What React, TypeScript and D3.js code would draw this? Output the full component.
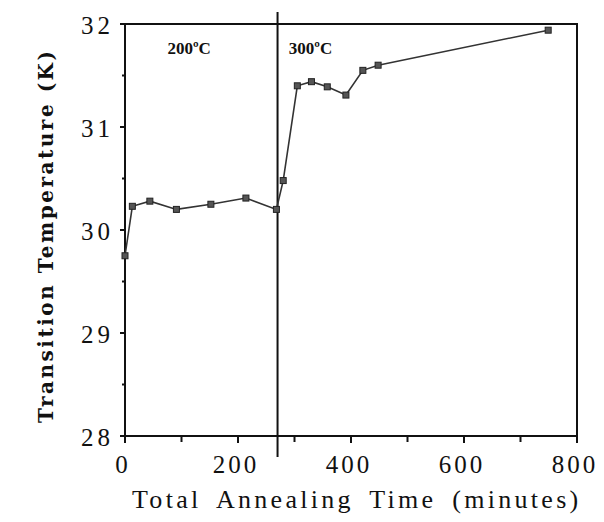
import React, { useEffect, useRef } from 'react';
import * as d3 from 'd3';

// annealing time (minutes) vs transition temperature (K)
const times = [0, 13, 44, 91, 152, 214, 268, 280, 305, 330, 358, 391, 421, 448, 749];
const temps = [29.75, 30.23, 30.28, 30.2, 30.25, 30.31, 30.2, 30.48, 31.4, 31.44, 31.39, 31.31, 31.55, 31.6, 31.94];
const xTicks = [0, 200, 400, 600, 800];
const xMinor = [100, 300, 500, 700];
const yTicks = [28, 29, 30, 31, 32];
const yMinor = [28.5, 29.5, 30.5, 31.5];
const switchTime = 270;
const regionLabels = [
  { text: '200ºC', t: 75 },
  { text: '300ºC', t: 290 },
];

const W = 604;
const H = 522;

const App = () => {
  const svgRef = useRef<SVGSVGElement>(null);

  useEffect(() => {
    const svg = d3.select(svgRef.current);
    svg.selectAll('*').remove();

    const left = 125, right = 577, top = 24, bottom = 436;
    const x = d3.scaleLinear().domain([0, 800]).range([left, right]);
    const y = d3.scaleLinear().domain([28, 32]).range([bottom, top]);
    const ink = '#111';

    // frame
    svg.append('rect')
      .attr('x', left).attr('y', top)
      .attr('width', right - left).attr('height', bottom - top)
      .attr('fill', 'none').attr('stroke', ink).attr('stroke-width', 2);

    // x ticks (outward)
    svg.append('g').selectAll('line')
      .data([...xTicks, ...xMinor])
      .join('line')
      .attr('x1', d => x(d)).attr('x2', d => x(d))
      .attr('y1', bottom).attr('y2', d => bottom + (xTicks.includes(d) ? 7 : 6))
      .attr('stroke', ink).attr('stroke-width', 2);

    svg.append('g').selectAll('text')
      .data(xTicks)
      .join('text')
      .attr('x', d => x(d) - 2).attr('y', 473)
      .attr('text-anchor', 'middle')
      .attr('font-family', 'Liberation Serif')
      .attr('font-size', 25)
      .attr('letter-spacing', 3)
      .attr('fill', ink)
      .text(d => d);

    // y ticks (outward)
    svg.append('g').selectAll('line')
      .data([...yTicks, ...yMinor])
      .join('line')
      .attr('x1', left).attr('x2', d => left - (yTicks.includes(d) ? 5 : 3))
      .attr('y1', d => y(d)).attr('y2', d => y(d))
      .attr('stroke', ink).attr('stroke-width', 2);

    svg.append('g').selectAll('text')
      .data(yTicks)
      .join('text')
      .attr('x', 114).attr('y', d => y(d) + 10)
      .attr('text-anchor', 'end')
      .attr('font-family', 'Liberation Serif')
      .attr('font-size', 25)
      .attr('letter-spacing', 4)
      .attr('fill', ink)
      .text(d => d);

    // divider between annealing temperatures
    svg.append('line')
      .attr('x1', x(switchTime)).attr('x2', x(switchTime))
      .attr('y1', 12).attr('y2', 457)
      .attr('stroke', ink).attr('stroke-width', 2);

    svg.append('g').selectAll('text')
      .data(regionLabels)
      .join('text')
      .attr('x', d => x(d.t)).attr('y', 54)
      .attr('font-family', 'Liberation Serif')
      .attr('font-weight', 'bold')
      .attr('font-size', 17)
      .attr('fill', ink)
      .text(d => d.text);

    // data
    const pts = times.map((t, i) => ({ t, v: temps[i] }));
    const line = d3.line<{ t: number; v: number }>()
      .x(d => x(d.t))
      .y(d => y(d.v));

    svg.append('path')
      .datum(pts)
      .attr('d', line)
      .attr('fill', 'none')
      .attr('stroke', '#333')
      .attr('stroke-width', 1.6);

    svg.append('g').selectAll('rect')
      .data(pts)
      .join('rect')
      .attr('x', d => x(d.t) - 3).attr('y', d => y(d.v) - 3)
      .attr('width', 6).attr('height', 6)
      .attr('fill', '#555')
      .attr('stroke', '#222')
      .attr('stroke-width', 1);

    // axis titles
    svg.append('text')
      .attr('x', 132).attr('y', 508)
      .attr('font-family', 'Liberation Serif')
      .attr('font-size', 26)
      .attr('letter-spacing', 3.3)
      .attr('word-spacing', 6)
      .attr('fill', ink)
      .text('Total Annealing Time (minutes)');

    svg.append('text')
      .attr('transform', 'translate(53,423) rotate(-90)')
      .attr('font-family', 'DejaVu Serif')
      .attr('font-weight', 'bold')
      .attr('font-size', 20)
      .attr('textLength', 372)
      .attr('lengthAdjust', 'spacing')
      .attr('fill', ink)
      .text('Transition Temperature (K)');
  }, []);

  return (
    <div style={{ margin: -8, width: W, height: H, background: '#fff' }}>
      <svg ref={svgRef} width={W} height={H} />
    </div>
  );
};

export default App;
